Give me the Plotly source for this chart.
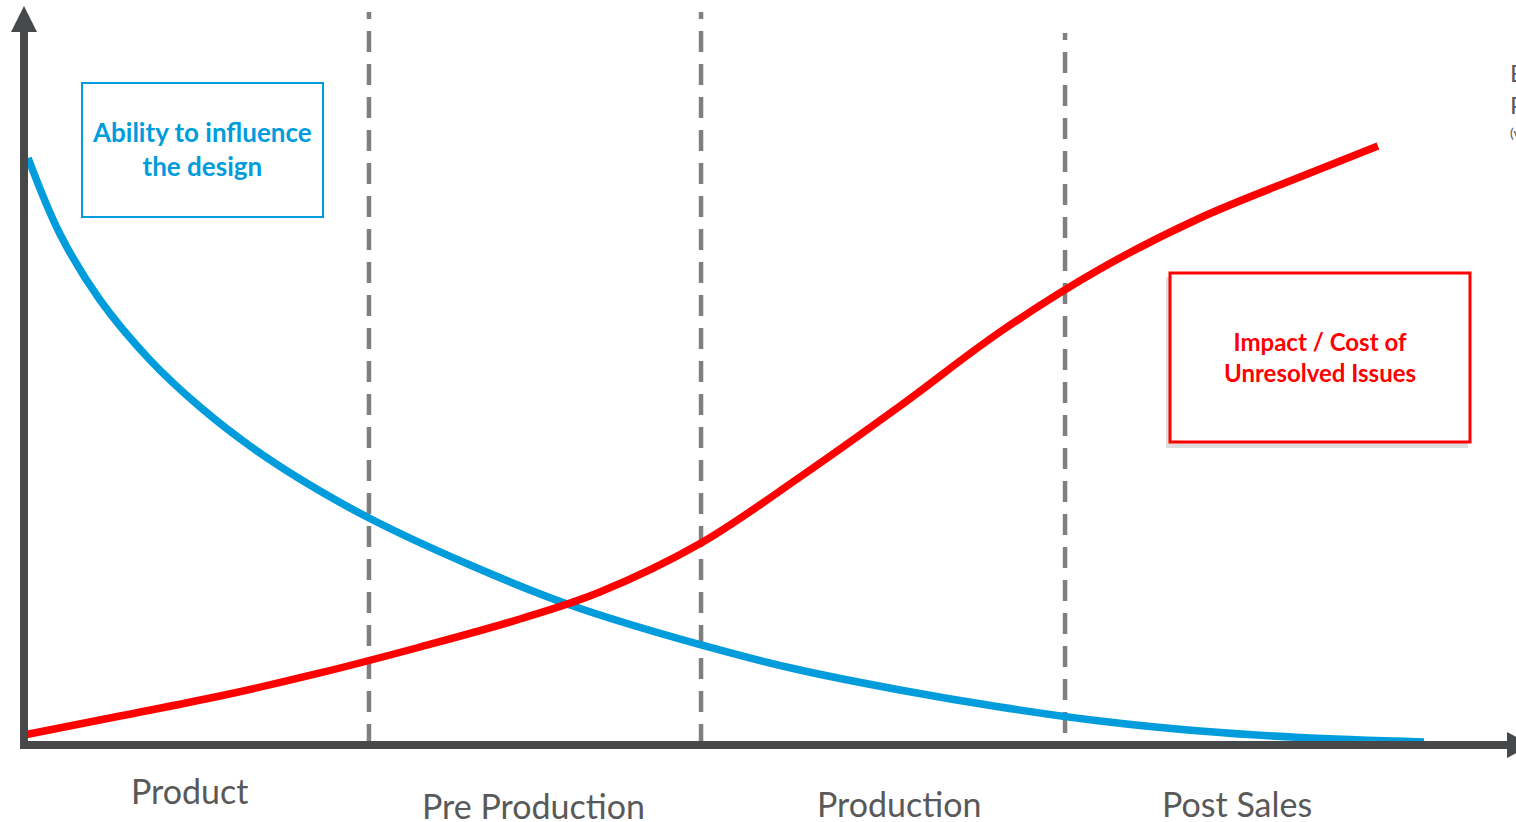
import plotly.graph_objects as go

# ---------------- data (timeline % vs relative level %) ----------------
ability_x = [0.29, 2.57, 5.43, 9.0, 12.57, 16.14, 19.71, 24.64, 31.86, 39.0, 48.36, 55.43, 62.57, 69.71, 76.86, 84.0, 91.14, 100.0]
ability_y = [83.86, 73.0, 63.57, 55.0, 48.29, 42.71, 38.0, 32.43, 25.71, 20.0, 14.29, 10.71, 7.86, 5.43, 3.43, 2.0, 1.07, 0.43]

cost_x = [0.0, 6.86, 14.0, 21.14, 28.29, 35.43, 41.14, 48.36, 55.43, 62.57, 69.71, 76.86, 84.0, 91.14, 96.71]
cost_y = [1.43, 4.14, 7.0, 10.29, 14.0, 18.0, 21.86, 28.86, 38.29, 48.43, 59.0, 68.0, 75.29, 81.14, 85.57]

phase_boundaries = [24.64, 48.36, 74.36]
phase_line_top = [104.7, 104.7, 101.7]
phase_line_bottom = [0.0, 0.0, 1.7]

phase_labels = ["Product<br>Development", "Pre Production", "Production", "Post Sales"]
phase_label_x = [11.79, 36.36, 62.5, 86.64]
phase_label_y = [-3.3, -8.7, -8.4, -8.4]

ability_label = "Ability to influence<br>the design"
cost_label = "Impact / Cost of<br>Unresolved Issues"

# ---------------- geometry (page in pixels) ----------------
W, H = 1516, 822
OX, OY = 24, 745        # pixel of data origin
SX, SY = 14.0, 7.0      # pixels per data unit

BLUE = "#009cdc"
RED = "#ff0000"
AXIS = "#47484a"
DASH = "#7f7f7f"
TEXT = "#595959"


def px(x):
    return x / W


def py(y):
    return 1 - y / H


fig = go.Figure()

# curves
fig.add_trace(go.Scatter(x=ability_x, y=ability_y, mode="lines",
                         line=dict(color=BLUE, width=7.5, shape="spline", smoothing=1.0),
                         hoverinfo="skip"))
fig.add_trace(go.Scatter(x=cost_x, y=cost_y, mode="lines",
                         line=dict(color=RED, width=7.5, shape="spline", smoothing=1.0),
                         hoverinfo="skip"))

shapes = []
# dashed phase boundaries
for bx, top, bot in zip(phase_boundaries, phase_line_top, phase_line_bottom):
    shapes.append(dict(type="line", xref="x", yref="y", x0=bx, x1=bx, y0=bot, y1=top,
                       line=dict(color=DASH, width=4.5, dash="21px,12px"), layer="below"))

# axes with arrowheads (paper coords from pixels)
shapes.append(dict(type="line", xref="paper", yref="paper",
                   x0=px(24), x1=px(24), y0=py(749), y1=py(28),
                   line=dict(color=AXIS, width=8)))
shapes.append(dict(type="path", xref="paper", yref="paper",
                   path=f"M {px(24)},{py(6)} L {px(11)},{py(32)} L {px(37)},{py(32)} Z",
                   fillcolor=AXIS, line=dict(width=0)))
shapes.append(dict(type="line", xref="paper", yref="paper",
                   x0=px(20), x1=px(1510), y0=py(745), y1=py(745),
                   line=dict(color=AXIS, width=8)))
shapes.append(dict(type="path", xref="paper", yref="paper",
                   path=f"M {px(1507)},{py(732)} L {px(1532)},{py(745)} L {px(1507)},{py(758)} Z",
                   fillcolor=AXIS, line=dict(width=0)))

# boxes
shapes.append(dict(type="rect", xref="paper", yref="paper",
                   x0=px(82), x1=px(323), y0=py(83), y1=py(217),
                   line=dict(color=BLUE, width=2), fillcolor="rgba(255,255,255,0)"))
shapes.append(dict(type="rect", xref="paper", yref="paper",
                   x0=px(1166), x1=px(1468), y0=py(277), y1=py(448),
                   line=dict(width=0), fillcolor="rgba(0,0,0,0.13)"))
shapes.append(dict(type="rect", xref="paper", yref="paper",
                   x0=px(1170), x1=px(1470), y0=py(273), y1=py(442),
                   line=dict(color=RED, width=3), fillcolor="white"))

annotations = []
annotations.append(dict(xref="paper", yref="paper", x=px(202), y=py(149), text=ability_label,
                        showarrow=False, xanchor="center", yanchor="middle",
                        font=dict(family="Lato", size=26, color=BLUE, weight="bold")))
annotations.append(dict(xref="paper", yref="paper", x=px(1320), y=py(357), text=cost_label,
                        showarrow=False, xanchor="center", yanchor="middle",
                        font=dict(family="Lato", size=24, color=RED, weight="bold")))

for lab, lx, ly in zip(phase_labels, phase_label_x, phase_label_y):
    annotations.append(dict(xref="x", yref="y", x=lx, y=ly, text=lab, showarrow=False,
                            xanchor="center", yanchor="top" if "<br>" in lab else "middle",
                            font=dict(family="Lato", size=34, color=TEXT)))

# clipped side text at the right edge
annotations.append(dict(xref="paper", yref="paper", x=px(1508), y=py(72), text="E",
                        showarrow=False, xanchor="left", yanchor="middle",
                        font=dict(family="Lato", size=24, color=TEXT)))
annotations.append(dict(xref="paper", yref="paper", x=px(1508), y=py(104), text="P",
                        showarrow=False, xanchor="left", yanchor="middle",
                        font=dict(family="Lato", size=24, color=TEXT)))
annotations.append(dict(xref="paper", yref="paper", x=px(1508), y=py(133), text="(v",
                        showarrow=False, xanchor="left", yanchor="middle",
                        font=dict(family="Lato", size=14, color=TEXT)))

fig.update_layout(
    width=W, height=H,
    margin=dict(l=0, r=0, t=0, b=0),
    paper_bgcolor="white", plot_bgcolor="white",
    showlegend=False,
    xaxis=dict(range=[-OX / SX, (W - OX) / SX], visible=False, fixedrange=True),
    yaxis=dict(range=[(OY - H) / SY, OY / SY], visible=False, fixedrange=True),
    shapes=shapes,
    annotations=annotations,
)

fig.write_html("out.html", config={"displayModeBar": False})
